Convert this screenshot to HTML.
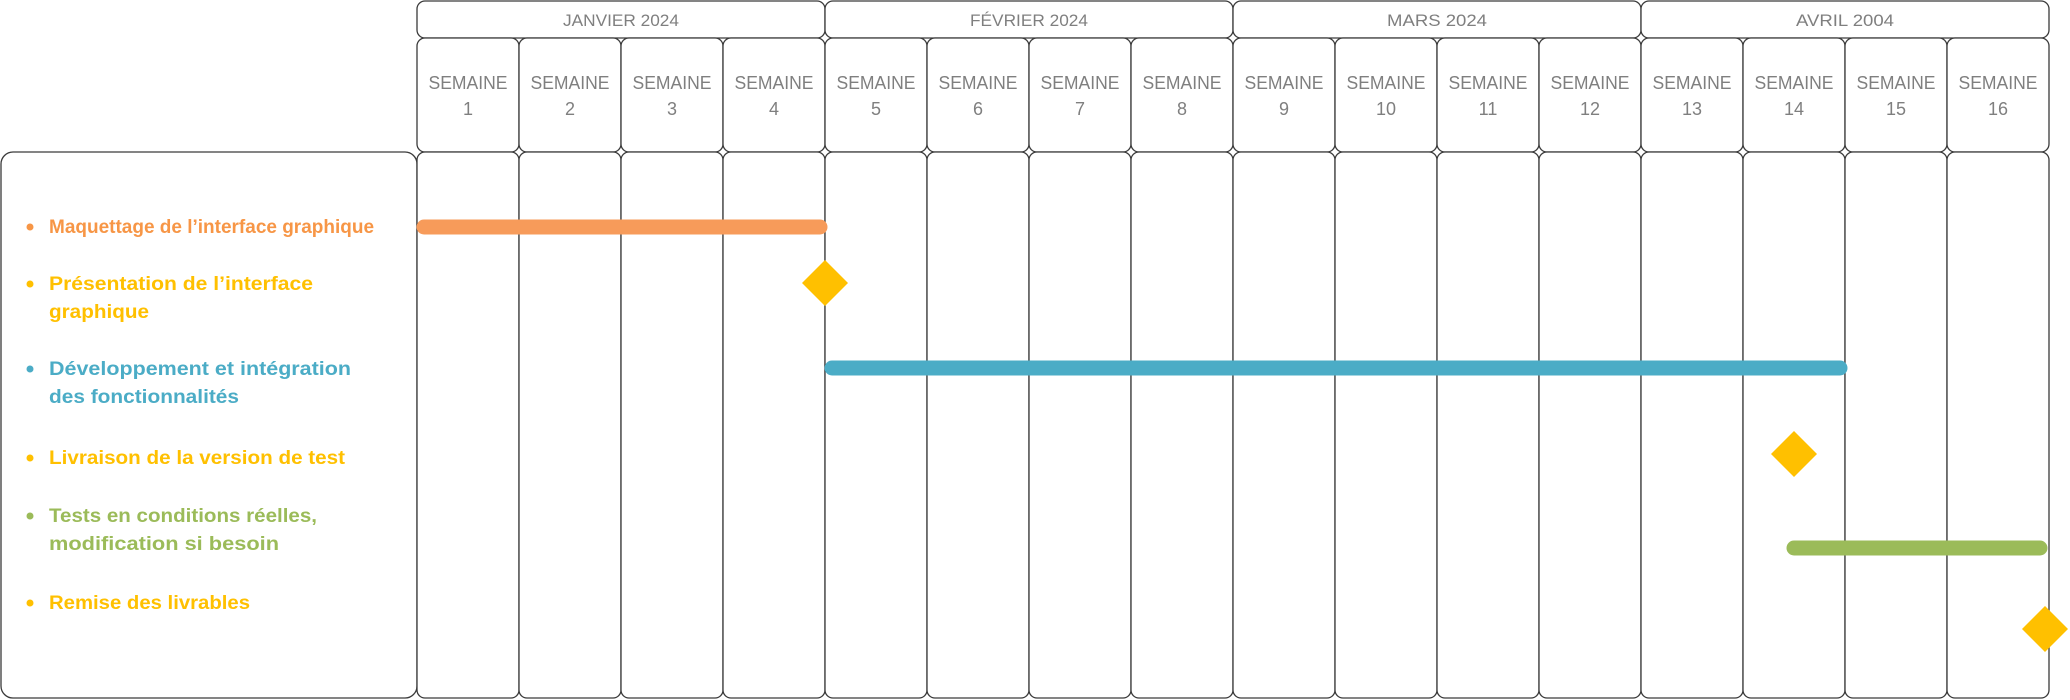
<!DOCTYPE html>
<html><head><meta charset="utf-8"><style>html,body{margin:0;padding:0;background:#fff}svg{display:block}</style></head>
<body>
<svg width="2070" height="700" xmlns="http://www.w3.org/2000/svg" font-family="'Liberation Sans', sans-serif">
<g fill="#fff" stroke="#3a3a3a" stroke-width="1.3">
<rect x="1" y="152" width="416" height="546" rx="12"/>
<rect x="417" y="1" width="408" height="37" rx="8"/>
<rect x="825" y="1" width="408" height="37" rx="8"/>
<rect x="1233" y="1" width="408" height="37" rx="8"/>
<rect x="1641" y="1" width="408" height="37" rx="8"/>
</g>
<g id="cols" fill="#fff" stroke="#3a3a3a" stroke-width="1.3">
<rect x="417" y="38" width="102" height="114" rx="8"/><rect x="417" y="152" width="102" height="546" rx="8"/>
<rect x="519" y="38" width="102" height="114" rx="8"/><rect x="519" y="152" width="102" height="546" rx="8"/>
<rect x="621" y="38" width="102" height="114" rx="8"/><rect x="621" y="152" width="102" height="546" rx="8"/>
<rect x="723" y="38" width="102" height="114" rx="8"/><rect x="723" y="152" width="102" height="546" rx="8"/>
<rect x="825" y="38" width="102" height="114" rx="8"/><rect x="825" y="152" width="102" height="546" rx="8"/>
<rect x="927" y="38" width="102" height="114" rx="8"/><rect x="927" y="152" width="102" height="546" rx="8"/>
<rect x="1029" y="38" width="102" height="114" rx="8"/><rect x="1029" y="152" width="102" height="546" rx="8"/>
<rect x="1131" y="38" width="102" height="114" rx="8"/><rect x="1131" y="152" width="102" height="546" rx="8"/>
<rect x="1233" y="38" width="102" height="114" rx="8"/><rect x="1233" y="152" width="102" height="546" rx="8"/>
<rect x="1335" y="38" width="102" height="114" rx="8"/><rect x="1335" y="152" width="102" height="546" rx="8"/>
<rect x="1437" y="38" width="102" height="114" rx="8"/><rect x="1437" y="152" width="102" height="546" rx="8"/>
<rect x="1539" y="38" width="102" height="114" rx="8"/><rect x="1539" y="152" width="102" height="546" rx="8"/>
<rect x="1641" y="38" width="102" height="114" rx="8"/><rect x="1641" y="152" width="102" height="546" rx="8"/>
<rect x="1743" y="38" width="102" height="114" rx="8"/><rect x="1743" y="152" width="102" height="546" rx="8"/>
<rect x="1845" y="38" width="102" height="114" rx="8"/><rect x="1845" y="152" width="102" height="546" rx="8"/>
<rect x="1947" y="38" width="102" height="114" rx="8"/><rect x="1947" y="152" width="102" height="546" rx="8"/>
</g>
<g fill="#7f7f7f" font-size="17" text-anchor="middle">
<text x="621" y="26" textLength="116" lengthAdjust="spacingAndGlyphs">JANVIER 2024</text>
<text x="1029" y="26" textLength="118" lengthAdjust="spacingAndGlyphs">FÉVRIER 2024</text>
<text x="1437" y="26" textLength="100" lengthAdjust="spacingAndGlyphs">MARS 2024</text>
<text x="1845" y="26" textLength="98" lengthAdjust="spacingAndGlyphs">AVRIL 2004</text>
</g>
<g fill="#7f7f7f" font-size="18" text-anchor="middle">
<text x="468" y="89" textLength="79" lengthAdjust="spacingAndGlyphs">SEMAINE</text><text x="468" y="115">1</text>
<text x="570" y="89" textLength="79" lengthAdjust="spacingAndGlyphs">SEMAINE</text><text x="570" y="115">2</text>
<text x="672" y="89" textLength="79" lengthAdjust="spacingAndGlyphs">SEMAINE</text><text x="672" y="115">3</text>
<text x="774" y="89" textLength="79" lengthAdjust="spacingAndGlyphs">SEMAINE</text><text x="774" y="115">4</text>
<text x="876" y="89" textLength="79" lengthAdjust="spacingAndGlyphs">SEMAINE</text><text x="876" y="115">5</text>
<text x="978" y="89" textLength="79" lengthAdjust="spacingAndGlyphs">SEMAINE</text><text x="978" y="115">6</text>
<text x="1080" y="89" textLength="79" lengthAdjust="spacingAndGlyphs">SEMAINE</text><text x="1080" y="115">7</text>
<text x="1182" y="89" textLength="79" lengthAdjust="spacingAndGlyphs">SEMAINE</text><text x="1182" y="115">8</text>
<text x="1284" y="89" textLength="79" lengthAdjust="spacingAndGlyphs">SEMAINE</text><text x="1284" y="115">9</text>
<text x="1386" y="89" textLength="79" lengthAdjust="spacingAndGlyphs">SEMAINE</text><text x="1386" y="115">10</text>
<text x="1488" y="89" textLength="79" lengthAdjust="spacingAndGlyphs">SEMAINE</text><text x="1488" y="115">11</text>
<text x="1590" y="89" textLength="79" lengthAdjust="spacingAndGlyphs">SEMAINE</text><text x="1590" y="115">12</text>
<text x="1692" y="89" textLength="79" lengthAdjust="spacingAndGlyphs">SEMAINE</text><text x="1692" y="115">13</text>
<text x="1794" y="89" textLength="79" lengthAdjust="spacingAndGlyphs">SEMAINE</text><text x="1794" y="115">14</text>
<text x="1896" y="89" textLength="79" lengthAdjust="spacingAndGlyphs">SEMAINE</text><text x="1896" y="115">15</text>
<text x="1998" y="89" textLength="79" lengthAdjust="spacingAndGlyphs">SEMAINE</text><text x="1998" y="115">16</text>
</g>
<g stroke-width="15" stroke-linecap="round">
<line x1="424" y1="227" x2="820" y2="227" stroke="#F79B5A"/>
<line x1="832" y1="368" x2="1840" y2="368" stroke="#4BACC6"/>
<line x1="1794" y1="548" x2="2040" y2="548" stroke="#9BBB59"/>
</g>
<g fill="#FFC000">
<polygon points="825,260 848,283 825,306 802,283"/>
<polygon points="1794,431 1817,454 1794,477 1771,454"/>
<polygon points="2045,606 2068,629 2045,652 2022,629"/>
</g>
<g font-size="19" font-weight="bold">
<circle cx="30" cy="227" r="3.5" fill="#F79646"/>
<text x="49" y="233" fill="#F79646" textLength="325" lengthAdjust="spacingAndGlyphs">Maquettage de l’interface graphique</text>
<circle cx="30" cy="284" r="3.5" fill="#FFC000"/>
<text x="49" y="290" fill="#FFC000" textLength="264" lengthAdjust="spacingAndGlyphs">Présentation de l’interface</text>
<text x="49" y="318" fill="#FFC000" textLength="100" lengthAdjust="spacingAndGlyphs">graphique</text>
<circle cx="30" cy="369" r="3.5" fill="#4BACC6"/>
<text x="49" y="375" fill="#4BACC6" textLength="302" lengthAdjust="spacingAndGlyphs">Développement et intégration</text>
<text x="49" y="403" fill="#4BACC6" textLength="190" lengthAdjust="spacingAndGlyphs">des fonctionnalités</text>
<circle cx="30" cy="458" r="3.5" fill="#FFC000"/>
<text x="49" y="464" fill="#FFC000" textLength="296" lengthAdjust="spacingAndGlyphs">Livraison de la version de test</text>
<circle cx="30" cy="516" r="3.5" fill="#9BBB59"/>
<text x="49" y="522" fill="#9BBB59" textLength="268" lengthAdjust="spacingAndGlyphs">Tests en conditions réelles,</text>
<text x="49" y="550" fill="#9BBB59" textLength="230" lengthAdjust="spacingAndGlyphs">modification si besoin</text>
<circle cx="30" cy="603" r="3.5" fill="#FFC000"/>
<text x="49" y="609" fill="#FFC000" textLength="201" lengthAdjust="spacingAndGlyphs">Remise des livrables</text>
</g>
</svg>
</body></html>
